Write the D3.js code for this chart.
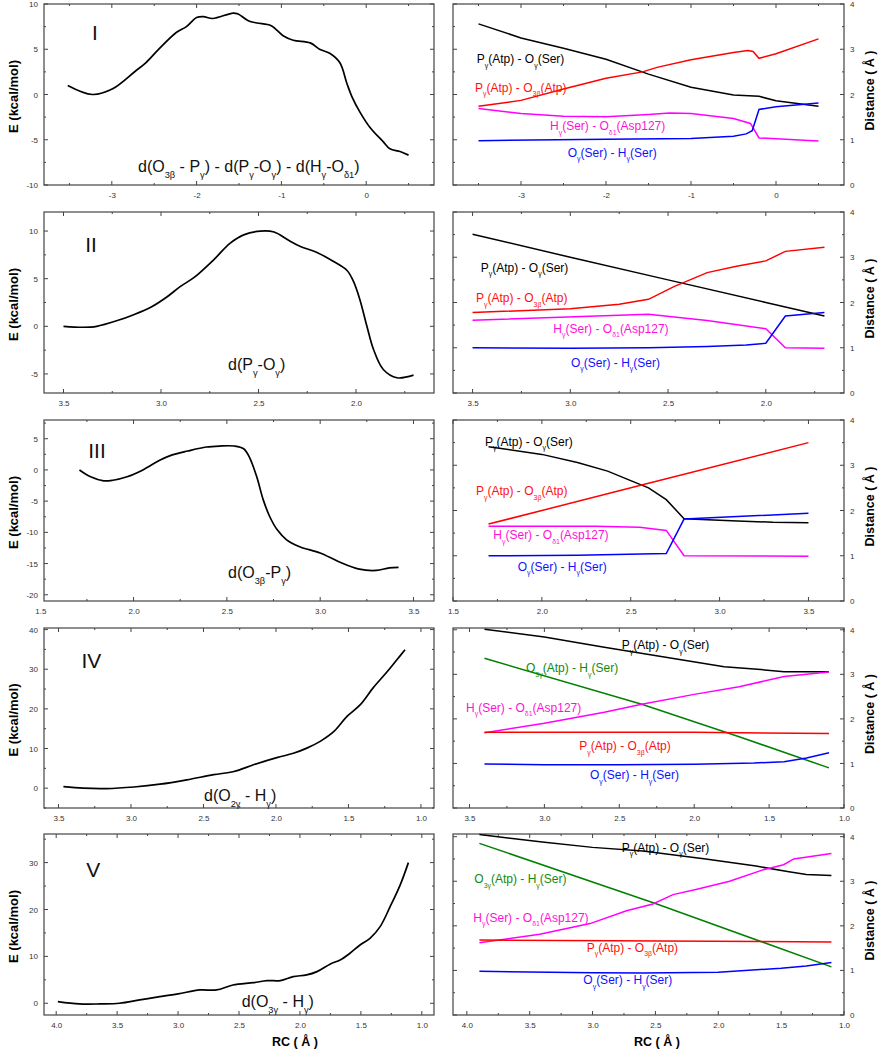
<!DOCTYPE html>
<html><head><meta charset="utf-8">
<script src="https://cdn.jsdelivr.net/npm/d3@7/dist/d3.min.js"></script>
<style>body{margin:0;background:#fff}svg{display:block}text{font-family:"Liberation Sans",Arial,sans-serif}</style>
</head><body>
<svg id="c" width="878" height="1050"></svg>
<script>
// ---------- DATA ----------
const panelNames = ["I","II","III","IV","V"];
const energyAnnot = [
 "d(O_{3β} - P_{γ}) -  d(P_{γ}-O_{γ}) - d(H_{γ}-O_{δ1})",
 "d(P_{γ}-O_{γ})",
 "d(O_{3β}-P_{γ})",
 "d(O_{2γ} - H_{γ})",
 "d(O_{3γ} - H_{γ})"];
const lblPO   = "P_{γ}(Atp) - O_{γ}(Ser)";
const lblPO3b = "P_{γ}(Atp) - O_{3β}(Atp)";
const lblHO   = "H_{γ}(Ser) - O_{δ1}(Asp127)";
const lblOH   = "O_{γ}(Ser) - H_{γ}(Ser)";
const lblO3H  = "O_{3γ}(Atp) - H_{γ}(Ser)";

const energyI = [[-3.52,1.0],[-3.23,0.0],[-2.99,0.63],[-2.72,2.6],[-2.60,3.5],[-2.44,5.07],[-2.24,6.85],[-2.12,7.5],[-2.0,8.5],[-1.92,8.6],[-1.81,8.4],[-1.57,9.0],[-1.51,8.9],[-1.39,8.15],[-1.29,7.9],[-1.12,7.6],[-0.98,6.5],[-0.86,6.0],[-0.66,5.7],[-0.55,5.0],[-0.43,4.55],[-0.31,3.5],[-0.23,1.3],[-0.17,-0.2],[-0.07,-2.0],[0.05,-3.7],[0.20,-5.2],[0.28,-6.0],[0.40,-6.3],[0.50,-6.7]];
const dI_PO   = [[-3.5,3.56],[-3.0,3.25],[-2.5,3.02],[-2.0,2.78],[-1.5,2.45],[-1.0,2.16],[-0.5,1.99],[-0.2,1.96],[0,1.86],[0.5,1.74]];
const dI_PO3b = [[-3.5,1.74],[-3.0,1.87],[-2.5,2.12],[-2.0,2.36],[-1.57,2.5],[-1.4,2.6],[-1.0,2.77],[-0.5,2.93],[-0.33,2.97],[-0.27,2.95],[-0.2,2.8],[0,2.9],[0.5,3.23]];
const dI_HO   = [[-3.5,1.69],[-3.0,1.58],[-2.5,1.52],[-2.0,1.51],[-1.5,1.56],[-1.25,1.59],[-1.0,1.58],[-0.5,1.47],[-0.3,1.36],[-0.2,1.04],[0.5,0.97]];
const dI_OH   = [[-3.5,0.98],[-2.0,1.01],[-1.0,1.03],[-0.5,1.08],[-0.35,1.13],[-0.28,1.2],[-0.2,1.67],[0,1.73],[0.5,1.81]];

const energyII = [[3.5,0],[3.4,-0.1],[3.33,0],[3.22,0.63],[3.14,1.22],[3.05,2.03],[2.97,3.08],[2.90,4.19],[2.83,5.13],[2.73,6.98],[2.645,8.73],[2.576,9.6],[2.49,10.0],[2.42,9.9],[2.35,9.08],[2.285,8.38],[2.20,7.75],[2.115,6.8],[2.046,5.86],[2.013,4.71],[1.98,2.8],[1.944,0],[1.91,-2.44],[1.86,-4.53],[1.79,-5.4],[1.705,-5.13]];
const dII_PO   = [[3.5,3.51],[3.0,3.0],[2.5,2.5],[2.0,2.0],[1.7,1.70]];
const dII_PO3b = [[3.5,1.78],[3.0,1.86],[2.75,1.96],[2.6,2.07],[2.47,2.35],[2.3,2.66],[2.15,2.8],[2.0,2.92],[1.9,3.13],[1.7,3.22]];
const dII_HO   = [[3.5,1.61],[2.6,1.74],[2.3,1.6],[2.0,1.42],[1.9,1.0],[1.7,0.99]];
const dII_OH   = [[3.5,1.0],[3.0,0.99],[2.6,1.0],[2.3,1.03],[2.1,1.06],[2.0,1.1],[1.9,1.7],[1.7,1.78]];

const energyIII = [[1.71,0],[1.77,-1.1],[1.84,-1.75],[1.89,-1.65],[1.965,-1.1],[2.05,0],[2.14,1.55],[2.2,2.34],[2.29,3.03],[2.39,3.67],[2.46,3.83],[2.54,3.83],[2.59,3.4],[2.62,2.08],[2.66,-1.1],[2.695,-4.8],[2.73,-7.5],[2.77,-9.6],[2.82,-11.2],[2.89,-12.3],[3.0,-13.3],[3.1,-14.7],[3.21,-15.9],[3.3,-16.1],[3.37,-15.7],[3.42,-15.6]];
const dIII_PO   = [[1.7,3.41],[2.0,3.24],[2.2,3.06],[2.37,2.87],[2.5,2.66],[2.6,2.5],[2.7,2.24],[2.8,1.82],[3.1,1.77],[3.3,1.74],[3.5,1.73]];
const dIII_PO3b = [[1.7,1.7],[2.6,2.6],[3.5,3.5]];
const dIII_HO   = [[1.7,1.65],[2.3,1.65],[2.55,1.63],[2.7,1.56],[2.8,1.0],[3.5,0.99]];
const dIII_OH   = [[1.7,1.0],[2.2,1.01],[2.7,1.05],[2.8,1.81],[3.5,1.94]];

const energyIV = [[3.466,0.4],[3.33,0],[3.17,-0.1],[2.98,0.3],[2.80,1.0],[2.615,2.1],[2.43,3.4],[2.29,4.2],[2.155,5.9],[1.994,7.7],[1.88,8.8],[1.787,10.1],[1.695,11.8],[1.60,14.3],[1.51,18.1],[1.42,21.0],[1.33,25.3],[1.235,29.3],[1.166,32.4],[1.11,34.9]];
const dIV_PO   = [[3.4,4.01],[3.0,3.84],[2.6,3.61],[2.2,3.39],[1.8,3.17],[1.6,3.12],[1.4,3.06],[1.1,3.06]];
const dIV_O3H  = [[3.4,3.36],[2.35,2.33],[1.7,1.6],[1.1,0.9]];
const dIV_HO   = [[3.4,1.69],[3.0,1.9],[2.6,2.15],[2.35,2.33],[2.0,2.55],[1.7,2.72],[1.4,2.95],[1.1,3.05]];
const dIV_PO3b = [[3.4,1.7],[2.0,1.7],[1.1,1.67]];
const dIV_OH   = [[3.4,0.99],[3.0,0.97],[2.5,0.97],[2.0,0.98],[1.6,1.01],[1.4,1.04],[1.25,1.12],[1.1,1.24]];

const energyV = [[3.986,0.36],[3.81,-0.14],[3.64,-0.14],[3.48,0],[3.315,0.71],[3.15,1.42],[3.0,2.0],[2.82,2.84],[2.685,2.84],[2.55,3.9],[2.38,4.4],[2.27,4.83],[2.16,4.83],[2.055,5.69],[1.945,6.04],[1.86,6.75],[1.75,8.39],[1.67,9.24],[1.59,10.66],[1.507,12.44],[1.425,13.86],[1.342,16.35],[1.26,20.6],[1.178,25.2],[1.11,30.0]];
const dV_PO   = [[3.9,4.05],[3.4,3.88],[3.0,3.76],[2.6,3.68],[2.1,3.5],[1.7,3.34],[1.45,3.22],[1.3,3.15],[1.1,3.13]];
const dV_O3H  = [[3.9,3.85],[2.5,2.5],[1.1,1.08]];
const dV_HO   = [[3.9,1.62],[3.42,1.81],[3.02,2.05],[2.73,2.34],[2.52,2.49],[2.36,2.7],[2.17,2.82],[1.91,3.0],[1.64,3.26],[1.48,3.37],[1.4,3.5],[1.1,3.62]];
const dV_PO3b = [[3.9,1.68],[1.1,1.64]];
const dV_OH   = [[3.9,0.98],[3.0,0.95],[2.6,0.94],[2.0,0.96],[1.5,1.05],[1.3,1.1],[1.1,1.18]];

// tick labels / steps
const eTicksI = [-10,-5,0,5,10], eTicksII=[-5,0,5,10], eTicksIII=[-20,-15,-10,-5,0,5], eTicksIV=[0,10,20,30,40], eTicksV=[0,10,20,30];
const dTicks = [0,1,2,3,4];

// ---------- LAYOUT ----------
const svg = d3.select("#c");
const LX=[44,434], RX=[453,844];
const rows = [[4,185],[212,393],[420,601],[628,808],[834,1015]];
const COL = {k:"#000", r:"#ff0000", m:"#ff00ff", b:"#0000ff", g:"#008000"};
const TCOL = {k:"#000", r:"#ff1010", m:"#ff10d8", b:"#1010ff", g:"#108a10"};

const panels = [
 {e:energyI, ex:[-3.8,0.8], ey:[-10,10], eT:eTicksI, eMin:2.5, xMaj:[-3,-2,-1,0], xMin:0.5, xFmt:d=>String(d).replace("−","-"),
  dx:[-3.8,0.8], dy:[0,4], dxMaj:[-3,-2,-1,0],
  series:[[dI_PO,"k"],[dI_PO3b,"r"],[dI_HO,"m"],[dI_OH,"b"]],
  labels:[[lblPO,"k",476.7,63.3],[lblPO3b,"r",475,91.7],[lblHO,"m",550,130],[lblOH,"b",567.7,156.7]],
  roman:[95,40], annot:[138,172]},
 {e:energyII, ex:[3.6,1.6], ey:[-7,12], eT:eTicksII, eMin:2.5, xMaj:[3.5,3.0,2.5,2.0], xMin:0.25, xFmt:d3.format(".1f"),
  dx:[3.6,1.6], dy:[0,4], dxMaj:[3.5,3.0,2.5,2.0],
  series:[[dII_PO,"k"],[dII_PO3b,"r"],[dII_HO,"m"],[dII_OH,"b"]],
  labels:[[lblPO,"k",480.7,271.7],[lblPO3b,"r",476,302.3],[lblHO,"m",553.3,332.7],[lblOH,"b",571,366.7]],
  roman:[91,251.7], annot:[228,370]},
 {e:energyIII, ex:[1.52,3.61], ey:[-21,8], eT:eTicksIII, eMin:2.5, xMaj:[1.5,2.0,2.5,3.0,3.5], xMin:0.25, xFmt:d3.format(".1f"),
  dx:[1.5,3.7], dy:[0,4], dxMaj:[1.5,2.0,2.5,3.0,3.5],
  series:[[dIII_PO,"k"],[dIII_PO3b,"r"],[dIII_HO,"m"],[dIII_OH,"b"]],
  labels:[[lblPO,"k",485,445.7],[lblPO3b,"r",476,495],[lblHO,"m",493.3,539.3],[lblOH,"b",517.7,570.7]],
  roman:[97,458.3], annot:[228,578]},
 {e:energyIV, ex:[3.6,0.91], ey:[-5,40.4], eT:eTicksIV, eMin:5, xMaj:[3.5,3.0,2.5,2.0,1.5,1.0], xMin:0.25, xFmt:d3.format(".1f"),
  dx:[3.61,1.0], dy:[0,4.04], dxMaj:[3.5,3.0,2.5,2.0,1.5,1.0],
  series:[[dIV_PO,"k"],[dIV_O3H,"g"],[dIV_HO,"m"],[dIV_PO3b,"r"],[dIV_OH,"b"]],
  labels:[[lblPO,"k",621.7,649.3],[lblO3H,"g",526,672.3],[lblHO,"m",466,711.7],[lblPO3b,"r",579.3,750],[lblOH,"b",590,779]],
  roman:[91.3,667.7], annot:[204,800.7]},
 {e:energyV, ex:[4.1,0.9], ey:[-2.5,36.1], eT:eTicksV, eMin:5, xMaj:[4.0,3.5,3.0,2.5,2.0,1.5,1.0], xMin:0.25, xFmt:d3.format(".1f"),
  dx:[4.11,1.0], dy:[0,4.06], dxMaj:[4.0,3.5,3.0,2.5,2.0,1.5,1.0],
  series:[[dV_PO,"k"],[dV_O3H,"g"],[dV_HO,"m"],[dV_PO3b,"r"],[dV_OH,"b"]],
  labels:[[lblPO,"k",621.7,851.7],[lblO3H,"g",474.3,883.3],[lblHO,"m",473.3,921.7],[lblPO3b,"r",586.7,951.7],[lblOH,"b",583.3,984.3]],
  roman:[93.3,876.7], annot:[241.7,1006.7]}
];

const hy = v => String(v).replace("−","-");

function rich(g, str, x, y, size, color, anchor){
  const t = g.append("text").attr("x",x).attr("y",y).attr("font-size",size).attr("fill",color)
    .attr("text-anchor",anchor||"start");
  const parts = str.split(/(_\{[^}]*\})/).filter(p=>p.length);
  const sh = size*0.38, ss = size*0.58;
  let pending = 0;
  parts.forEach(p=>{
    if(p.startsWith("_{")){
      t.append("tspan").attr("font-size",ss).attr("dy",sh+pending).text(p.slice(2,-1));
      pending = -sh;
    } else {
      t.append("tspan").attr("dy",pending).text(p);
      pending = 0;
    }
  });
  return t;
}

function ticksRange(dom, step){
  const lo=Math.min(...dom), hi=Math.max(...dom), out=[];
  for(let v=Math.ceil(lo/step-1e-9)*step; v<=hi+1e-9; v+=step) out.push(+v.toFixed(6));
  return out;
}

function frame(g, x, y, xMaj, xMinStep, yMaj, yMinStep){
  const [x0,x1]=x.range(), [y1,y0]=y.range();
  const tk = g.append("g").attr("stroke","#444").attr("stroke-width",1);
  const xm = ticksRange(x.domain(), xMinStep), ym = ticksRange(y.domain(), yMinStep);
  xm.forEach(v=>{
    const L = xMaj.some(m=>Math.abs(m-v)<1e-6)?4:2, px=x(v);
    tk.append("line").attr("x1",px).attr("x2",px).attr("y1",y1).attr("y2",y1-L);
    tk.append("line").attr("x1",px).attr("x2",px).attr("y1",y0).attr("y2",y0+L);
  });
  ym.forEach(v=>{
    const L = yMaj.some(m=>Math.abs(m-v)<1e-6)?4:2, py=y(v);
    tk.append("line").attr("x1",x0).attr("x2",x0+L).attr("y1",py).attr("y2",py);
    tk.append("line").attr("x1",x1).attr("x2",x1-L).attr("y1",py).attr("y2",py);
  });
  g.append("rect").attr("x",x0).attr("y",y0).attr("width",x1-x0).attr("height",y1-y0)
   .attr("fill","none").attr("stroke","#444").attr("stroke-width",1.2);
}

const styleTicks = s=>{s.select(".domain").remove(); s.selectAll("text").attr("font-size",8).attr("fill","#333").style("font-family","Liberation Sans, Arial");};

panels.forEach((p,i)=>{
  const [top,bot] = rows[i];
  // ---- left energy panel ----
  const gL = svg.append("g");
  const xE = d3.scaleLinear().domain(p.ex).range(LX);
  const yE = d3.scaleLinear().domain(p.ey).range([bot,top]);
  frame(gL, xE, yE, p.xMaj, p.xMin, p.eT, p.eMin);
  gL.append("g").attr("transform",`translate(${LX[0]},0)`)
    .call(d3.axisLeft(yE).tickValues(p.eT).tickSize(0).tickPadding(6).tickFormat(hy)).call(styleTicks);
  gL.append("g").attr("transform",`translate(0,${bot})`)
    .call(d3.axisBottom(xE).tickValues(p.xMaj).tickSize(0).tickPadding(7).tickFormat(p.xFmt)).call(styleTicks);
  gL.append("path").datum(p.e).attr("fill","none").attr("stroke","#000").attr("stroke-width",1.7)
    .attr("d", d3.line().x(d=>xE(d[0])).y(d=>yE(d[1])).curve(d3.curveCatmullRom.alpha(0.5)));
  gL.append("text").attr("x",p.roman[0]).attr("y",p.roman[1]).attr("text-anchor","middle")
    .attr("font-size",21).attr("fill","#111").text(panelNames[i]);
  rich(gL, energyAnnot[i], p.annot[0], p.annot[1], 16, "#111");
  gL.append("text").attr("transform",`translate(18,${(top+bot)/2+2}) rotate(-90)`)
    .attr("text-anchor","middle").attr("font-size",13).attr("font-weight","bold").text("E (kcal/mol)");

  // ---- right distance panel ----
  const gR = svg.append("g");
  const xD = d3.scaleLinear().domain(p.dx).range(RX);
  const yD = d3.scaleLinear().domain(p.dy).range([bot,top]);
  frame(gR, xD, yD, p.dxMaj, p.xMin, dTicks, 0.5);
  gR.append("g").attr("transform",`translate(${RX[1]},0)`)
    .call(d3.axisRight(yD).tickValues(dTicks).tickSize(0).tickPadding(6).tickFormat(d3.format("d"))).call(styleTicks);
  gR.append("g").attr("transform",`translate(0,${bot})`)
    .call(d3.axisBottom(xD).tickValues(p.dxMaj).tickSize(0).tickPadding(7).tickFormat(p.xFmt)).call(styleTicks);
  const ln = d3.line().x(d=>xD(d[0])).y(d=>yD(d[1]));
  p.series.forEach(([data,c])=>{
    gR.append("path").datum(data).attr("fill","none").attr("stroke",COL[c]).attr("stroke-width",1.5).attr("d",ln);
  });
  p.labels.forEach(([txt,c,x,y])=> rich(gR, txt, x, y, 12, TCOL[c]));
  gR.append("text").attr("transform",`translate(874,${(top+bot)/2-4}) rotate(-90)`)
    .attr("text-anchor","middle").attr("font-size",12.5).attr("font-weight","bold").text("Distance ( Å )");
});

svg.append("text").attr("x",295).attr("y",1046).attr("text-anchor","middle").attr("font-size",12.5).attr("font-weight","bold").text("RC ( Å )");
svg.append("text").attr("x",657).attr("y",1046).attr("text-anchor","middle").attr("font-size",12.5).attr("font-weight","bold").text("RC ( Å )");
</script>
</body></html>
